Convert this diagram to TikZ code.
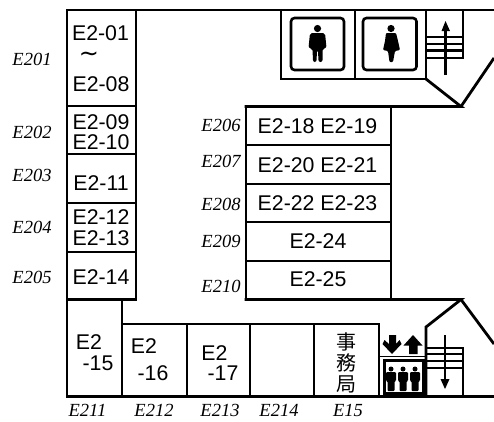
\documentclass[tikz,border=0pt]{standalone}
\usepackage{fontspec}
\setmainfont{Liberation Sans}
\newfontfamily\serifit[Ligatures=TeX]{Liberation Serif}
\newfontfamily\cjk{Noto Sans CJK JP}
\tikzset{
  wall/.style={line width=2.8pt,line join=miter,line cap=butt},
  room/.style={font=\fontsize{21.3}{21.3}\selectfont,inner sep=0pt,text=black},
  tag/.style={font=\serifit\itshape\fontsize{18.5}{18.5}\selectfont,inner sep=0pt,text=black},
  sign/.style={line width=2.6pt,rounded corners=3.5pt},
  stairline/.style={line width=2.2pt},
  arrow/.style={line width=2.4pt},
  head/.style={fill=black,draw=none}
}
\begin{document}
\begin{tikzpicture}[x=1pt,y=-1pt]
\useasboundingbox (0,0) rectangle (494,421);
% outer walls
\draw[wall] (494,10) -- (67,10) -- (67,396.5) -- (494,396.5);
\draw[wall] (136,10) -- (136,299.5) -- (67,299.5);
\draw[wall] (67,106) -- (136,106);
\draw[wall] (67,154) -- (136,154);
\draw[wall] (67,203) -- (136,203);
\draw[wall] (67,252) -- (136,252);
\draw[wall] (122,299.5) -- (122,396.5);
\draw[wall] (120.5,324) -- (379,324) -- (379,396.5);
\draw[wall] (187,324) -- (187,396.5);
\draw[wall] (250,324) -- (250,396.5);
\draw[wall] (314,324) -- (314,396.5);
% centre block
\draw[wall] (246,106.5) -- (246,299.5);
\draw[wall] (391,106.5) -- (391,299.5);
\draw[wall] (246,145) -- (391,145);
\draw[wall] (246,184) -- (391,184);
\draw[wall] (246,222) -- (391,222);
\draw[wall] (246,261) -- (391,261);
\draw[wall] (244.5,106.5) -- (461,106.5) -- (426,79);
\draw[wall] (461,106.5) -- (494,58);
\draw[wall] (244.5,299.5) -- (461,299.5) -- (426,327) -- (426,396.5);
\draw[wall] (461,299.5) -- (494,344);
% toilets
\draw[wall] (281,10) -- (281,79) -- (426,79) -- (426,10);
\draw[wall] (355,10) -- (355,79);
\draw[sign] (291,18) rectangle (344,70);
\draw[sign] (363,18) rectangle (416.5,70);
% man
\fill (317.5,28.5) circle (3.6);
\fill[rounded corners=2pt] (310,33) -- (325,33) -- (326.5,48) -- (322.5,48.5) -- (322.5,62) -- (318.5,62) -- (318,50) -- (317,50) -- (316.5,62) -- (313,62) -- (312.5,48.5) -- (308.5,48) -- cycle;
% woman
\fill (391,28.5) circle (3.6);
\fill[rounded corners=1pt] (386,33) -- (396,33) -- (398,41) -- (400,50) -- (395,51) -- (393,62) -- (389.5,62) -- (388,51) -- (383,50) -- (385,41) -- cycle;
% upper stairs
\draw[stairline] (463,10) -- (463,58) -- (426,58);
\foreach \y in {37,44,50.5} \draw[stairline] (426,\y) -- (463,\y);
\draw[arrow] (445.5,75) -- (445.5,28);
\fill[head] (445.5,21) -- (450,31) -- (441.5,31) -- cycle;
% lower stairs
\draw[stairline] (426,348) -- (463,348) -- (463,396.5);
\foreach \y in {354,361,368} \draw[stairline] (426,\y) -- (463,\y);
\draw[arrow] (445,335) -- (445,381);
\fill[head] (445,389) -- (440.5,379) -- (449.5,379) -- cycle;
% elevator
\draw[line width=1.6pt] (379,356.5) -- (426,356.5);
\draw[line width=3pt] (384,360.5) rectangle (423,393);
\foreach \x in {391,403,415} {
  \fill (\x,369) circle (2.5);
  \fill[rounded corners=1pt] (\x-5,372) -- (\x+5,372) -- (\x+5,381) -- (\x+3.5,381) -- (\x+3.5,391) -- (\x-3.5,391) -- (\x-3.5,381) -- (\x-5,381) -- cycle;
}
\fill (389,335) -- (389,344) -- (384.5,340) -- (382.5,344) -- (392,354) -- (401.5,344) -- (399.5,340) -- (396,344) -- (396,335) -- cycle;
\fill (413,335) -- (422.5,345.5) -- (417.5,345.5) -- (417.5,354) -- (409,354) -- (409,345.5) -- (403.5,345.5) -- cycle;
% rooms
\node[room] (r01) at (100.5,33) {E2-01};
\node[font=\fontspec{DejaVu Sans}\fontsize{24}{24}\selectfont,inner sep=0pt] (rt) at (89,57) {\char"223C};
\node[room] (r08) at (101,84) {E2-08};
\node[room] (r09) at (101,122.5) {E2-09};
\node[room] (r10) at (101,142) {E2-10};
\node[room] (r11) at (101,183) {E2-11};
\node[room] (r12) at (101,217) {E2-12};
\node[room] (r13) at (101,238) {E2-13};
\node[room] (r14) at (101,277) {E2-14};
\node[room] (r15a) at (89,342) {E2};
\node[room] (r15b) at (98,363) {-15};
\node[room] (r16a) at (144,346) {E2};
\node[room] (r16b) at (153,373) {-16};
\node[room] (r17a) at (214.5,353) {E2};
\node[room] (r17b) at (223,373) {-17};
\node[room] (r18) at (317.5,126) {E2-18 E2-19};
\node[room] (r20) at (317.5,165) {E2-20 E2-21};
\node[room] (r22) at (317.5,203) {E2-22 E2-23};
\node[room] (r24) at (318,241) {E2-24};
\node[room] (r25) at (318,279) {E2-25};
\node[font=\cjk\fontsize{20}{21}\selectfont,inner sep=0pt,align=center] (office) at (346,362.5) {事\\務\\局};
% tags
\node[tag] (e201) at (32,59) {E201};
\node[tag] (e202) at (32,132) {E202};
\node[tag] (e203) at (32,175) {E203};
\node[tag] (e204) at (32,227) {E204};
\node[tag] (e205) at (32,277) {E205};
\node[tag] (e206) at (221,125) {E206};
\node[tag] (e207) at (221,161) {E207};
\node[tag] (e208) at (221,204) {E208};
\node[tag] (e209) at (221,241) {E209};
\node[tag] (e210) at (221,286) {E210};
\node[tag] (e211) at (87.5,410) {E211};
\node[tag] (e212) at (154,410) {E212};
\node[tag] (e213) at (220,410) {E213};
\node[tag] (e214) at (279,410) {E214};
\node[tag] (e15) at (348,410) {E15};
\end{tikzpicture}
\end{document}
